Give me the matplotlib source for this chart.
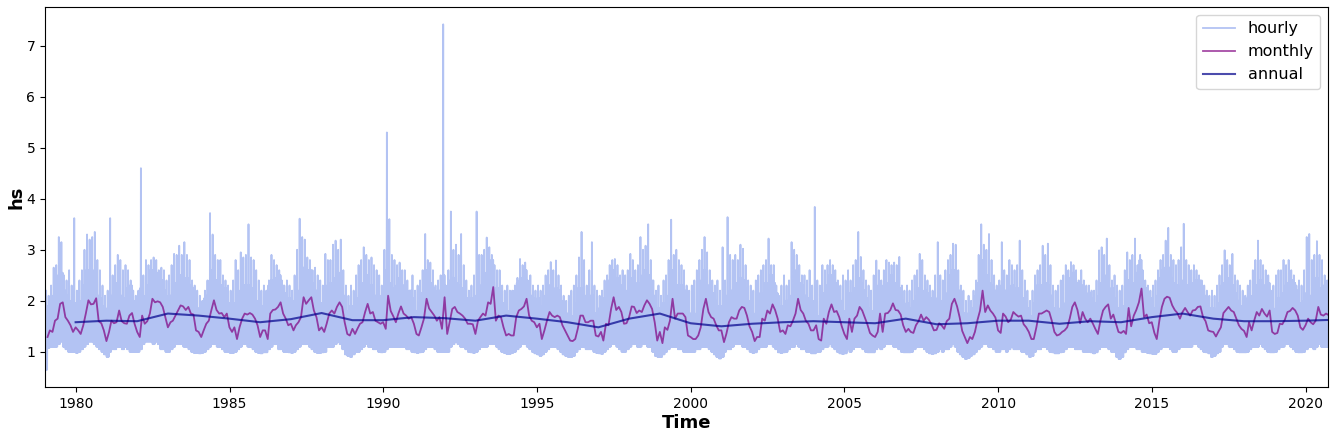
import numpy as np
import pandas as pd
import matplotlib
matplotlib.use("Agg")
import matplotlib.pyplot as plt
import matplotlib.dates as mdates

# ---- data (rows = years 1979..2020, 12 months each) ----
monthly_hs = [
    [1.29, 1.42, 1.39, 1.61, 1.65, 1.94, 1.97, 1.68, 1.61, 1.52, 1.39, 1.48],  # 1979
    [1.42, 1.35, 1.52, 1.75, 2.01, 1.93, 1.94, 2.05, 1.60, 1.56, 1.42, 1.21],  # 1980
    [1.39, 1.61, 1.56, 1.58, 1.81, 1.60, 1.56, 1.55, 1.71, 1.76, 1.55, 1.39],  # 1981
    [1.29, 1.71, 1.55, 1.60, 1.75, 2.04, 1.97, 1.99, 1.97, 1.88, 1.68, 1.48],  # 1982
    [1.58, 1.61, 1.71, 1.81, 1.91, 1.89, 1.82, 1.88, 1.75, 1.73, 1.42, 1.39],  # 1983
    [1.29, 1.42, 1.55, 1.61, 1.82, 2.01, 1.82, 1.75, 1.76, 1.68, 1.75, 1.48],  # 1984
    [1.39, 1.48, 1.25, 1.48, 1.65, 1.75, 1.73, 1.76, 1.73, 1.65, 1.52, 1.29],  # 1985
    [1.42, 1.42, 1.25, 1.75, 1.82, 1.83, 1.88, 1.97, 1.75, 1.65, 1.52, 1.55],  # 1986
    [1.42, 1.52, 1.58, 1.68, 2.07, 1.94, 2.01, 2.07, 1.81, 1.68, 1.42, 1.48],  # 1987
    [1.39, 1.55, 1.75, 1.81, 1.75, 1.88, 1.97, 1.88, 1.58, 1.35, 1.32, 1.45],  # 1988
    [1.35, 1.45, 1.55, 1.58, 1.78, 1.94, 1.75, 1.78, 1.61, 1.58, 1.55, 1.58],  # 1989
    [1.45, 2.10, 1.80, 1.70, 1.58, 1.75, 1.89, 1.75, 1.71, 1.65, 1.68, 1.55],  # 1990
    [1.35, 1.32, 1.48, 1.65, 2.04, 1.85, 1.78, 1.71, 1.61, 1.68, 1.45, 2.07],  # 1991
    [1.35, 1.58, 1.84, 1.88, 1.78, 1.75, 1.71, 1.65, 1.55, 1.55, 1.54, 1.35],  # 1992
    [1.61, 1.68, 1.75, 1.71, 1.97, 1.94, 2.27, 1.61, 1.71, 1.68, 1.48, 1.32],  # 1993
    [1.35, 1.32, 1.32, 1.68, 1.81, 1.84, 1.89, 2.04, 1.71, 1.61, 1.58, 1.48],  # 1994
    [1.55, 1.25, 1.42, 1.61, 1.78, 1.71, 1.68, 1.71, 1.68, 1.52, 1.42, 1.32],  # 1995
    [1.22, 1.21, 1.25, 1.45, 1.71, 1.71, 1.58, 1.58, 1.61, 1.61, 1.32, 1.30],  # 1996
    [1.39, 1.22, 1.55, 1.52, 1.84, 2.07, 1.82, 1.88, 1.78, 1.55, 1.56, 1.68],  # 1997
    [1.89, 1.88, 1.76, 1.81, 1.78, 1.91, 2.01, 1.94, 1.84, 1.58, 1.22, 1.39],  # 1998
    [1.17, 1.48, 1.43, 1.61, 2.04, 1.65, 1.75, 1.75, 1.75, 1.68, 1.32, 1.29],  # 1999
    [1.25, 1.25, 1.32, 1.48, 1.84, 2.04, 1.78, 1.68, 1.65, 1.52, 1.42, 1.42],  # 2000
    [1.19, 1.35, 1.58, 1.68, 1.65, 1.65, 1.81, 1.88, 1.86, 1.71, 1.50, 1.39],  # 2001
    [1.21, 1.29, 1.29, 1.65, 1.61, 1.81, 1.75, 1.93, 1.82, 1.65, 1.39, 1.42],  # 2002
    [1.35, 1.52, 1.50, 1.61, 1.75, 2.04, 1.82, 1.75, 1.61, 1.55, 1.42, 1.42],  # 2003
    [1.52, 1.25, 1.22, 1.65, 1.55, 1.78, 1.93, 1.78, 1.80, 1.68, 1.50, 1.35],  # 2004
    [1.25, 1.65, 1.39, 1.65, 1.71, 1.88, 1.81, 1.67, 1.54, 1.37, 1.32, 1.29],  # 2005
    [1.39, 1.75, 1.39, 1.75, 1.76, 1.82, 1.95, 1.82, 1.81, 1.73, 1.52, 1.39],  # 2006
    [1.45, 1.39, 1.37, 1.52, 1.60, 1.73, 1.61, 1.68, 1.63, 1.54, 1.42, 1.43],  # 2007
    [1.56, 1.52, 1.45, 1.60, 1.65, 1.94, 2.04, 1.89, 1.68, 1.41, 1.29, 1.17],  # 2008
    [1.29, 1.25, 1.39, 1.62, 1.81, 2.20, 1.78, 1.91, 1.81, 1.75, 1.67, 1.42],  # 2009
    [1.37, 1.75, 1.69, 1.58, 1.63, 1.78, 1.73, 1.69, 1.71, 1.54, 1.48, 1.39],  # 2010
    [1.25, 1.25, 1.48, 1.75, 1.75, 1.78, 1.81, 1.78, 1.61, 1.39, 1.32, 1.34],  # 2011
    [1.39, 1.42, 1.48, 1.65, 1.88, 1.97, 1.82, 1.56, 1.78, 1.65, 1.58, 1.65],  # 2012
    [1.55, 1.45, 1.35, 1.61, 1.81, 1.88, 1.93, 1.65, 1.73, 1.56, 1.39, 1.37],  # 2013
    [1.41, 1.35, 1.86, 1.50, 1.71, 1.82, 1.97, 2.24, 1.68, 1.73, 1.56, 1.58],  # 2014
    [1.37, 1.25, 1.61, 1.88, 2.04, 2.08, 2.06, 1.91, 1.82, 1.76, 1.65, 1.78],  # 2015
    [1.86, 1.78, 1.71, 1.81, 1.82, 1.88, 1.89, 1.68, 1.60, 1.42, 1.40, 1.39],  # 2016
    [1.30, 1.39, 1.48, 1.76, 1.82, 1.88, 1.81, 1.78, 1.65, 1.52, 1.45, 1.41],  # 2017
    [1.29, 1.58, 1.42, 1.61, 1.78, 1.71, 1.84, 1.75, 1.69, 1.81, 1.39, 1.35],  # 2018
    [1.37, 1.55, 1.54, 1.63, 1.78, 1.80, 1.86, 1.81, 1.71, 1.48, 1.43, 1.52],  # 2019
    [1.65, 1.58, 1.54, 1.61, 1.88, 1.73, 1.71, 1.75, 1.72],                    # 2020
]

# highest hourly value in each month (storm peaks)
hourly_max = [
    [2.20, 2.10, 2.30, 2.65, 2.70, 3.25, 3.15, 2.50, 2.40, 2.60, 2.30, 3.62],
    [2.20, 2.40, 2.60, 3.00, 3.30, 3.20, 3.25, 3.35, 2.80, 2.60, 2.30, 2.10],
    [2.20, 3.62, 2.50, 2.70, 2.90, 2.80, 2.60, 2.70, 2.60, 2.40, 2.20, 2.10],
    [2.20, 4.60, 2.50, 2.80, 2.70, 2.80, 2.85, 2.80, 2.60, 2.65, 2.60, 2.40],
    [2.50, 2.70, 2.92, 2.90, 3.08, 2.90, 3.15, 2.90, 2.80, 2.40, 2.30, 2.20],
    [2.10, 2.00, 2.20, 2.40, 3.72, 3.30, 2.90, 2.80, 2.80, 2.50, 2.40, 2.30],
    [2.20, 2.40, 2.80, 2.60, 2.95, 2.85, 2.90, 3.50, 2.85, 2.80, 2.60, 2.40],
    [2.20, 2.30, 2.20, 2.40, 2.90, 2.80, 2.70, 2.60, 2.40, 2.30, 2.40, 2.30],
    [2.20, 2.50, 3.00, 3.61, 3.25, 3.20, 2.85, 2.80, 2.60, 2.65, 2.50, 2.40],
    [2.30, 2.92, 2.80, 2.80, 3.10, 3.18, 3.00, 3.20, 2.60, 2.30, 2.10, 2.30],
    [2.20, 2.50, 2.70, 2.80, 3.05, 2.90, 2.80, 2.85, 2.70, 2.60, 2.50, 2.30],
    [3.00, 5.30, 3.60, 2.90, 2.80, 2.70, 2.75, 2.60, 2.60, 2.40, 2.20, 2.50],
    [2.20, 2.30, 2.40, 2.60, 3.31, 2.80, 2.75, 2.60, 2.30, 2.40, 2.50, 7.42],
    [2.30, 2.60, 3.75, 3.00, 3.10, 2.90, 3.31, 2.70, 2.40, 2.20, 2.30, 2.50],
    [3.75, 2.90, 2.90, 3.00, 3.24, 3.05, 2.90, 2.70, 2.60, 2.60, 2.30, 2.20],
    [2.30, 2.20, 2.20, 2.30, 2.45, 2.82, 2.70, 2.75, 2.40, 2.50, 2.30, 2.20],
    [2.30, 2.20, 2.30, 2.50, 2.60, 2.76, 2.60, 2.79, 2.50, 2.30, 2.10, 2.00],
    [2.10, 2.20, 2.30, 2.50, 2.85, 3.35, 2.80, 2.30, 2.60, 3.15, 2.30, 2.20],
    [2.10, 2.20, 2.40, 2.50, 2.70, 2.80, 2.82, 2.70, 2.50, 2.60, 2.50, 2.60],
    [2.92, 2.80, 2.60, 2.70, 3.25, 3.00, 3.08, 3.50, 2.80, 2.40, 2.20, 2.30],
    [2.10, 2.40, 2.50, 2.80, 3.59, 2.90, 3.00, 2.80, 2.70, 2.60, 2.30, 2.20],
    [2.30, 2.40, 2.60, 2.80, 3.00, 3.25, 2.95, 2.60, 2.40, 2.30, 2.40, 2.20],
    [3.05, 2.40, 3.64, 2.90, 2.80, 2.90, 2.80, 3.10, 3.02, 2.70, 2.40, 2.30],
    [2.20, 2.40, 2.50, 2.60, 2.70, 2.80, 3.22, 2.70, 2.70, 2.30, 2.10, 2.30],
    [2.50, 2.30, 2.40, 3.15, 3.00, 2.90, 2.70, 2.50, 2.50, 2.40, 2.60, 2.30],
    [3.84, 2.40, 2.30, 2.70, 2.60, 2.70, 2.80, 2.70, 2.60, 2.40, 2.30, 2.50],
    [2.40, 2.60, 2.40, 2.70, 2.80, 3.35, 2.86, 2.60, 2.40, 2.30, 2.20, 2.50],
    [2.79, 2.60, 2.40, 2.60, 2.80, 2.75, 2.70, 2.75, 2.70, 2.86, 2.30, 2.20],
    [2.30, 2.20, 2.40, 2.50, 2.60, 2.92, 2.80, 2.50, 2.40, 2.30, 2.20, 2.50],
    [3.15, 2.50, 2.40, 2.60, 2.80, 2.90, 3.12, 3.10, 2.60, 2.30, 2.20, 2.00],
    [2.10, 2.00, 2.20, 2.40, 2.90, 3.50, 3.10, 3.00, 3.31, 2.80, 2.50, 2.30],
    [2.40, 3.15, 2.60, 2.50, 2.80, 2.70, 2.60, 2.70, 3.18, 2.60, 2.40, 2.20],
    [2.00, 2.20, 2.50, 2.60, 2.70, 3.08, 2.90, 3.12, 2.70, 2.30, 2.20, 2.30],
    [2.40, 2.50, 2.70, 2.60, 2.76, 2.70, 2.60, 2.40, 2.60, 2.40, 2.30, 2.30],
    [2.20, 2.20, 2.40, 2.99, 3.05, 2.90, 3.22, 2.70, 2.40, 2.50, 2.30, 2.20],
    [2.30, 2.60, 2.95, 2.80, 2.90, 3.22, 2.70, 2.90, 2.60, 2.40, 2.30, 2.20],
    [2.30, 2.40, 2.60, 2.80, 2.90, 3.18, 3.43, 2.90, 2.80, 2.70, 2.80, 3.05],
    [3.51, 2.80, 2.70, 2.60, 2.70, 2.60, 2.50, 2.40, 2.30, 2.20, 2.10, 2.20],
    [2.10, 2.30, 2.50, 2.70, 2.99, 2.80, 2.70, 2.92, 2.50, 2.40, 2.30, 2.20],
    [2.10, 2.30, 2.40, 2.60, 2.80, 3.18, 2.80, 2.70, 2.60, 2.50, 2.20, 2.30],
    [2.50, 2.60, 2.60, 2.80, 2.70, 2.80, 2.60, 2.50, 2.30, 2.40, 2.30, 2.60],
    [3.25, 3.31, 2.80, 2.90, 3.17, 2.90, 2.80, 2.50, 2.40],
]

# top of the dense part of the hourly band in each month
hourly_core = [
    [1.75, 1.90, 1.85, 2.10, 2.20, 2.50, 2.55, 2.20, 2.10, 2.00, 1.85, 1.95],
    [1.90, 1.80, 2.00, 2.30, 2.60, 2.50, 2.50, 2.60, 2.10, 2.05, 1.90, 1.65],
    [1.85, 2.10, 2.05, 2.10, 2.35, 2.10, 2.05, 2.05, 2.25, 2.30, 2.00, 1.85],
    [1.75, 2.25, 2.05, 2.10, 2.30, 2.60, 2.55, 2.55, 2.50, 2.40, 2.20, 1.95],
    [2.10, 2.10, 2.25, 2.35, 2.50, 2.45, 2.40, 2.45, 2.30, 2.25, 1.90, 1.85],
    [1.75, 1.90, 2.05, 2.10, 2.40, 2.60, 2.40, 2.30, 2.30, 2.20, 2.25, 1.95],
    [1.85, 1.95, 1.70, 1.95, 2.20, 2.30, 2.25, 2.30, 2.25, 2.20, 2.00, 1.75],
    [1.90, 1.90, 1.70, 2.30, 2.40, 2.40, 2.45, 2.50, 2.30, 2.15, 2.00, 2.05],
    [1.90, 2.00, 2.10, 2.20, 2.65, 2.50, 2.60, 2.60, 2.35, 2.20, 1.90, 1.95],
    [1.85, 2.05, 2.30, 2.35, 2.30, 2.45, 2.55, 2.45, 2.10, 1.80, 1.75, 1.90],
    [1.80, 1.95, 2.05, 2.10, 2.35, 2.50, 2.30, 2.30, 2.10, 2.10, 2.05, 2.10],
    [1.95, 2.60, 2.35, 2.25, 2.10, 2.30, 2.45, 2.30, 2.25, 2.15, 2.20, 2.05],
    [1.80, 1.75, 1.95, 2.15, 2.60, 2.40, 2.35, 2.25, 2.10, 2.20, 1.90, 2.50],
    [1.80, 2.10, 2.40, 2.45, 2.35, 2.30, 2.25, 2.15, 2.05, 2.05, 2.05, 1.80],
    [2.10, 2.20, 2.30, 2.25, 2.55, 2.50, 2.80, 2.10, 2.25, 2.20, 1.95, 1.75],
    [1.80, 1.75, 1.75, 2.20, 2.35, 2.40, 2.45, 2.60, 2.25, 2.10, 2.05, 1.95],
    [2.05, 1.70, 1.90, 2.10, 2.30, 2.25, 2.20, 2.25, 2.20, 2.00, 1.90, 1.75],
    [1.65, 1.65, 1.70, 1.95, 2.25, 2.25, 2.10, 2.05, 2.10, 2.10, 1.75, 1.75],
    [1.85, 1.65, 2.05, 2.00, 2.40, 2.60, 2.35, 2.45, 2.30, 2.05, 2.05, 2.20],
    [2.45, 2.45, 2.30, 2.35, 2.35, 2.50, 2.60, 2.50, 2.40, 2.10, 1.65, 1.85],
    [1.60, 1.95, 1.90, 2.10, 2.60, 2.15, 2.30, 2.30, 2.30, 2.20, 1.75, 1.75],
    [1.70, 1.70, 1.75, 1.95, 2.40, 2.60, 2.30, 2.20, 2.15, 2.00, 1.90, 1.90],
    [1.65, 1.80, 2.10, 2.20, 2.15, 2.15, 2.35, 2.45, 2.40, 2.25, 2.00, 1.85],
    [1.65, 1.75, 1.75, 2.15, 2.10, 2.35, 2.30, 2.50, 2.35, 2.15, 1.85, 1.90],
    [1.80, 2.00, 2.00, 2.10, 2.30, 2.60, 2.35, 2.30, 2.10, 2.05, 1.90, 1.90],
    [2.00, 1.70, 1.65, 2.15, 2.05, 2.30, 2.50, 2.30, 2.35, 2.20, 2.00, 1.80],
    [1.70, 2.15, 1.85, 2.15, 2.25, 2.45, 2.35, 2.20, 2.05, 1.85, 1.80, 1.75],
    [1.85, 2.30, 1.85, 2.30, 2.30, 2.35, 2.50, 2.35, 2.35, 2.25, 2.00, 1.85],
    [1.95, 1.85, 1.85, 2.00, 2.10, 2.25, 2.10, 2.20, 2.15, 2.05, 1.90, 1.90],
    [2.05, 2.00, 1.95, 2.10, 2.15, 2.50, 2.60, 2.45, 2.20, 1.85, 1.75, 1.60],
    [1.75, 1.70, 1.85, 2.10, 2.35, 2.80, 2.30, 2.50, 2.35, 2.30, 2.20, 1.90],
    [1.85, 2.30, 2.20, 2.10, 2.15, 2.30, 2.25, 2.20, 2.25, 2.05, 1.95, 1.85],
    [1.70, 1.70, 1.95, 2.30, 2.30, 2.30, 2.35, 2.30, 2.10, 1.85, 1.75, 1.80],
    [1.85, 1.90, 1.95, 2.15, 2.45, 2.55, 2.35, 2.05, 2.30, 2.15, 2.10, 2.15],
    [2.05, 1.95, 1.80, 2.10, 2.35, 2.45, 2.50, 2.15, 2.25, 2.05, 1.85, 1.80],
    [1.90, 1.80, 2.40, 2.00, 2.25, 2.35, 2.55, 2.80, 2.20, 2.25, 2.05, 2.05],
    [1.85, 1.70, 2.10, 2.45, 2.60, 2.65, 2.65, 2.45, 2.35, 2.30, 2.15, 2.30],
    [2.40, 2.30, 2.25, 2.35, 2.35, 2.40, 2.40, 2.20, 2.10, 1.90, 1.85, 1.85],
    [1.75, 1.85, 1.95, 2.30, 2.35, 2.45, 2.35, 2.30, 2.15, 2.00, 1.90, 1.85],
    [1.75, 2.05, 1.90, 2.10, 2.30, 2.25, 2.40, 2.30, 2.20, 2.35, 1.85, 1.80],
    [1.85, 2.05, 2.05, 2.15, 2.30, 2.35, 2.40, 2.35, 2.20, 1.95, 1.90, 2.00],
    [2.15, 2.10, 2.05, 2.10, 2.45, 2.25, 2.25, 2.30, 2.25],
]

# lowest hourly value in each month
hourly_min = [
    [0.65, 1.08, 1.10, 1.10, 1.10, 1.15, 1.20, 1.10, 1.05, 1.00, 1.00, 1.00],
    [0.98, 1.00, 1.05, 1.10, 1.15, 1.20, 1.20, 1.15, 1.10, 1.05, 1.00, 0.95],
    [0.90, 1.00, 1.05, 1.05, 1.10, 1.10, 1.05, 1.10, 1.05, 1.00, 1.00, 1.00],
    [1.00, 1.05, 1.15, 1.20, 1.20, 1.20, 1.15, 1.20, 1.15, 1.05, 1.05, 1.00],
    [1.00, 1.05, 1.10, 1.15, 1.15, 1.15, 1.10, 1.10, 1.05, 1.00, 0.98, 0.98],
    [0.97, 0.98, 1.00, 1.05, 1.10, 1.15, 1.15, 1.10, 1.10, 1.05, 1.00, 1.00],
    [0.98, 0.98, 1.00, 1.05, 1.10, 1.15, 1.15, 1.10, 1.10, 1.05, 1.00, 0.98],
    [0.97, 0.99, 0.99, 1.05, 1.10, 1.15, 1.15, 1.05, 1.05, 1.00, 1.00, 0.99],
    [0.98, 1.00, 1.05, 1.10, 1.15, 1.15, 1.15, 1.10, 1.05, 1.00, 0.98, 0.98],
    [0.99, 1.00, 1.10, 1.10, 1.10, 1.15, 1.20, 1.15, 1.05, 0.95, 0.92, 0.90],
    [0.95, 1.00, 1.00, 1.05, 1.10, 1.15, 1.10, 1.10, 1.05, 1.05, 1.00, 0.99],
    [1.00, 1.05, 1.10, 1.10, 1.10, 1.10, 1.10, 1.10, 1.10, 1.05, 1.05, 1.00],
    [0.99, 0.98, 0.99, 1.00, 1.05, 1.10, 1.10, 1.10, 1.05, 1.00, 1.00, 1.00],
    [1.00, 1.00, 1.10, 1.15, 1.20, 1.15, 1.10, 1.10, 1.05, 1.00, 0.99, 0.98],
    [1.00, 1.05, 1.10, 1.10, 1.10, 1.15, 1.15, 1.15, 1.10, 1.05, 1.00, 0.98],
    [0.96, 0.96, 0.98, 1.00, 1.05, 1.10, 1.15, 1.15, 1.10, 1.05, 1.00, 0.97],
    [0.95, 0.92, 0.95, 1.00, 1.05, 1.10, 1.10, 1.10, 1.05, 1.00, 0.95, 0.92],
    [0.90, 0.90, 0.92, 1.00, 1.05, 1.10, 1.10, 1.05, 1.05, 1.05, 1.00, 0.98],
    [0.97, 0.96, 1.00, 1.05, 1.10, 1.15, 1.15, 1.10, 1.05, 1.00, 1.00, 1.05],
    [1.10, 1.15, 1.15, 1.10, 1.10, 1.15, 1.15, 1.10, 1.10, 1.00, 0.92, 0.90],
    [0.90, 0.95, 1.00, 1.05, 1.10, 1.10, 1.10, 1.05, 1.05, 1.00, 1.00, 1.00],
    [1.00, 1.00, 1.05, 1.05, 1.10, 1.10, 1.10, 1.05, 1.00, 0.95, 0.90, 0.87],
    [0.90, 1.00, 1.05, 1.05, 1.10, 1.15, 1.15, 1.15, 1.10, 1.10, 1.05, 1.00],
    [0.98, 0.99, 1.05, 1.10, 1.10, 1.10, 1.15, 1.15, 1.10, 1.05, 0.99, 0.98],
    [0.99, 1.00, 1.05, 1.10, 1.10, 1.15, 1.10, 1.05, 1.05, 1.00, 1.00, 0.97],
    [0.97, 1.00, 1.00, 1.05, 1.10, 1.10, 1.15, 1.10, 1.05, 1.00, 0.97, 0.96],
    [0.97, 1.05, 1.00, 1.05, 1.10, 1.10, 1.10, 1.05, 1.00, 0.99, 0.99, 0.99],
    [1.05, 1.10, 1.05, 1.10, 1.15, 1.15, 1.15, 1.10, 1.10, 1.05, 1.00, 0.99],
    [0.99, 0.99, 1.00, 1.05, 1.10, 1.10, 1.10, 1.05, 1.00, 0.97, 0.96, 0.97],
    [1.00, 1.05, 1.00, 1.05, 1.05, 1.10, 1.15, 1.10, 1.00, 0.95, 0.90, 0.86],
    [0.88, 0.92, 0.95, 1.00, 1.05, 1.10, 1.15, 1.15, 1.10, 1.10, 1.05, 1.00],
    [1.00, 1.05, 1.05, 1.00, 1.05, 1.10, 1.05, 1.05, 1.05, 1.00, 1.00, 0.95],
    [0.90, 0.92, 1.00, 1.05, 1.05, 1.10, 1.10, 1.05, 1.00, 0.99, 0.97, 0.97],
    [0.99, 1.00, 1.05, 1.10, 1.10, 1.10, 1.05, 1.05, 1.05, 1.00, 1.00, 1.00],
    [0.99, 0.97, 0.99, 1.05, 1.10, 1.10, 1.10, 1.05, 1.00, 1.00, 0.90, 0.86],
    [0.90, 0.99, 1.05, 1.10, 1.10, 1.10, 1.05, 1.05, 1.00, 1.00, 0.98, 0.97],
    [0.96, 0.96, 1.00, 1.05, 1.10, 1.10, 1.10, 1.05, 1.00, 1.00, 1.05, 1.10],
    [1.10, 1.10, 1.10, 1.10, 1.15, 1.15, 1.10, 1.05, 1.00, 0.99, 0.97, 0.90],
    [0.92, 0.97, 1.00, 1.10, 1.15, 1.15, 1.10, 1.10, 1.05, 1.00, 0.99, 0.99],
    [0.99, 1.00, 1.05, 1.10, 1.10, 1.10, 1.15, 1.10, 1.05, 1.00, 0.99, 0.99],
    [1.00, 1.05, 1.10, 1.10, 1.15, 1.15, 1.10, 1.05, 1.00, 0.99, 0.99, 1.00],
    [1.05, 1.10, 1.10, 1.05, 1.10, 1.15, 1.10, 1.10, 1.10],
]

# annual means, labelled at each year's end (1979..2020)
annual_hs = [1.58, 1.61, 1.60, 1.75, 1.71, 1.65, 1.58, 1.64, 1.76, 1.62,
             1.62, 1.68, 1.66, 1.61, 1.71, 1.65, 1.58, 1.48, 1.65, 1.75,
             1.56, 1.50, 1.55, 1.58, 1.60, 1.58, 1.56, 1.65, 1.54, 1.56,
             1.61, 1.61, 1.55, 1.60, 1.58, 1.68, 1.75, 1.65, 1.60, 1.60,
             1.61, 1.63]

series_labels = ["hourly", "monthly", "annual"]
x_label = "Time"
y_label = "hs"

# ---- build series ----
m_vals = np.concatenate([np.asarray(r, float) for r in monthly_hs])
h_max = np.concatenate([np.asarray(r, float) for r in hourly_max])
h_core = np.concatenate([np.asarray(r, float) for r in hourly_core])
h_min = np.concatenate([np.asarray(r, float) for r in hourly_min])
n = len(m_vals)

month_start = pd.date_range("1979-01-01", periods=n + 1, freq="MS")
month_end = pd.date_range("1979-01-31", periods=n, freq="ME")
year_end = pd.date_range("1979-12-31", periods=len(annual_hs), freq="YE")

# within each month: trough / dense-band top / storm peak, drawn as one path
pattern = [h_min, h_core, h_min, h_max, h_min, h_core, h_min, h_core]
k = len(pattern)
span = (month_start[1:] - month_start[:-1]).values
starts = month_start[:-1].values
t_hourly = np.empty(k * n, dtype="datetime64[ns]")
v_hourly = np.empty(k * n)
for j, arr in enumerate(pattern):
    frac = (j + 0.5) / k
    t_hourly[j::k] = starts + (span * frac).astype("timedelta64[ns]")
    v_hourly[j::k] = arr

# ---- plot ----
fig = plt.figure(figsize=(13.35, 4.37), dpi=100)
ax = fig.add_axes([0.0337, 0.1144, 0.9611, 0.8696])

ax.plot(t_hourly, v_hourly, color="royalblue", alpha=0.4, lw=1.3, label=series_labels[0])
ax.plot(month_end, m_vals, color="purple", alpha=0.7, lw=1.3, label=series_labels[1])
ax.plot(year_end, annual_hs, color="darkblue", alpha=0.7, lw=1.5, label=series_labels[2])

ax.set_xlim(pd.Timestamp("1979-01-01"), pd.Timestamp("2020-09-24"))
ax.set_ylim(0.31, 7.76)
ax.xaxis.set_major_locator(mdates.YearLocator(5))
ax.xaxis.set_major_formatter(mdates.DateFormatter("%Y"))
ax.set_yticks([1, 2, 3, 4, 5, 6, 7])
ax.tick_params(labelsize=10)

ax.set_xlabel(x_label, fontsize=13, fontweight="bold", labelpad=2)
ax.set_ylabel(y_label, fontsize=13, fontweight="bold", labelpad=1)
ax.legend(loc="upper right", fontsize=11.5)

fig.savefig("out.png", dpi=100)
